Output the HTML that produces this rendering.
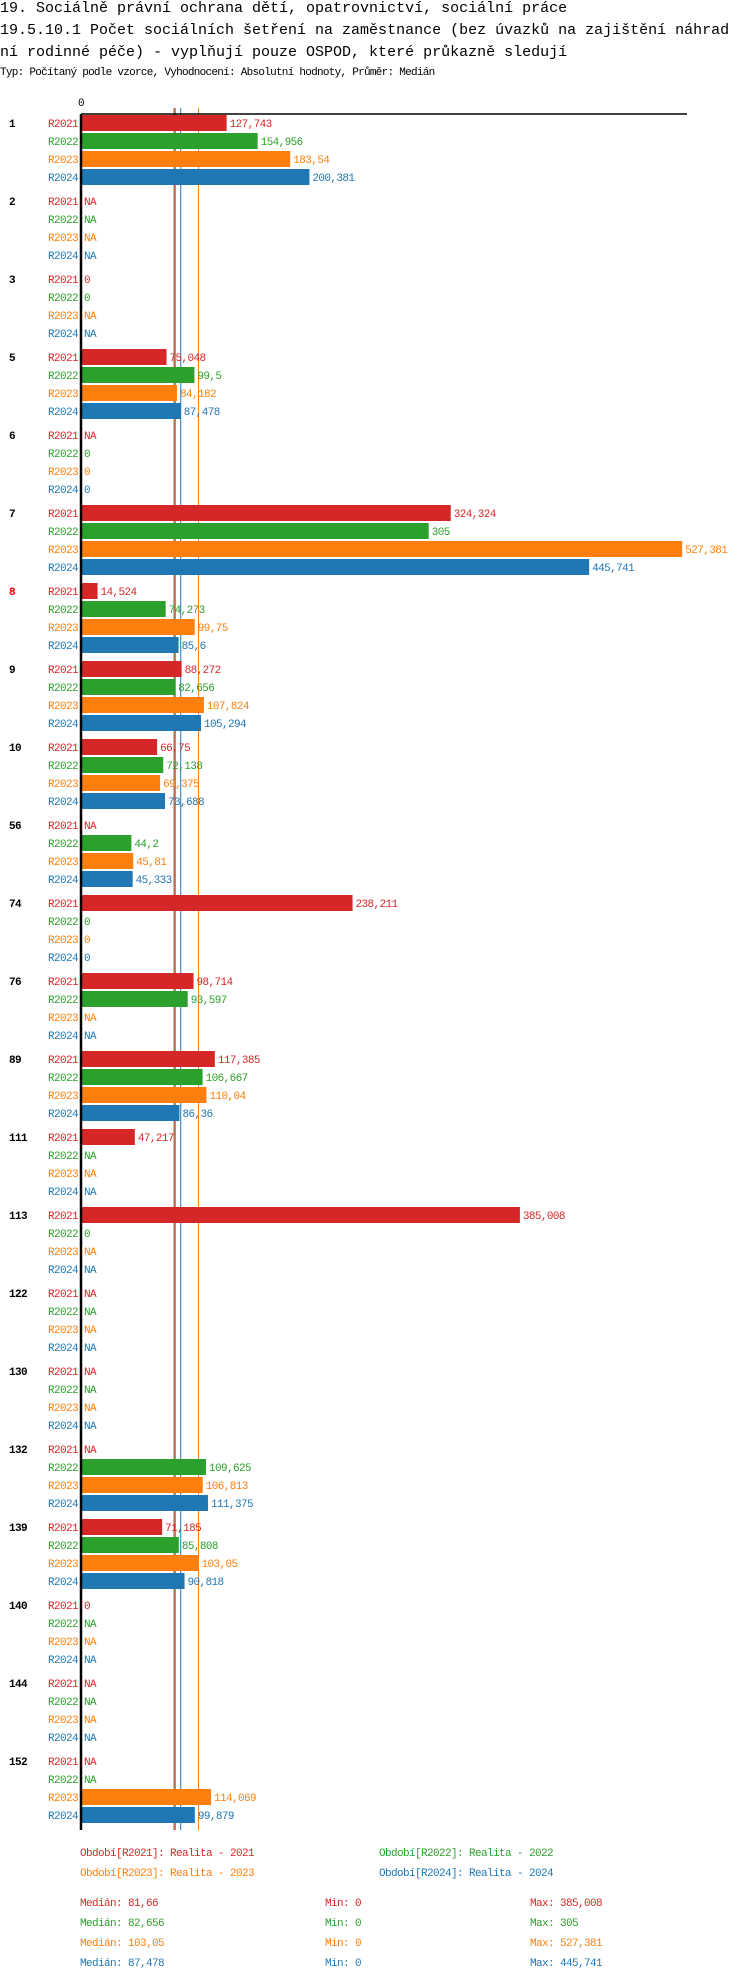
<!DOCTYPE html>
<html><head><meta charset="utf-8">
<style>
body{margin:0;background:#fff;width:750px;height:1980px;overflow:hidden}
.t{position:absolute;left:0;font-family:"Liberation Mono",monospace;font-size:15px;color:#000;white-space:nowrap}
svg{position:absolute;left:0;top:0}
svg text{font-family:"Liberation Mono",monospace;font-size:11px;letter-spacing:-0.6px}
</style></head><body>
<div class="t" style="top:0px">19. Sociálně právní ochrana dětí, opatrovnictví, sociální práce</div>
<div class="t" style="top:22px">19.5.10.1 Počet sociálních šetření na zaměstnance (bez úvazků na zajištění náhrad</div>
<div class="t" style="top:44px">ní rodinné péče) - vyplňují pouze OSPOD, které průkazně sledují</div>
<div class="t" style="top:67px;font-size:11px;letter-spacing:-0.73px">Typ: Počítaný podle vzorce, Vyhodnocení: Absolutní hodnoty, Průměr: Medián</div>
<svg id="c" width="750" height="1980"></svg>
<script>
const categories=["1","2","3","5","6","7","8","9","10","56","74","76","89","111","113","122","130","132","139","140","144","152"];
const seriesNames=["R2021","R2022","R2023","R2024"];
const r2021=[127.743,null,0,75.048,null,324.324,14.524,88.272,66.75,null,238.211,98.714,117.385,47.217,385.008,null,null,null,71.185,0,null,null];
const r2022=[154.956,null,0,99.5,0,305,74.273,82.656,72.138,44.2,0,93.597,106.667,null,0,null,null,109.625,85.808,null,null,null];
const r2023=[183.54,null,null,84.182,0,527.381,99.75,107.824,69.375,45.81,0,null,110.04,null,null,null,null,106.813,103.05,null,null,114.069];
const r2024=[200.381,null,null,87.478,0,445.741,85.6,105.294,73.688,45.333,0,null,86.36,null,null,null,null,111.375,90.818,null,null,99.879];
const medians=[81.66,82.656,103.05,87.478];
const mins=[0,0,0,0];
const maxs=[385.008,305,527.381,445.741];
const legendLabels=["Období[R2021]: Realita - 2021","Období[R2022]: Realita - 2022","Období[R2023]: Realita - 2023","Období[R2024]: Realita - 2024"];
const highlighted="8";
const colors=["#d62728","#2ca02c","#ff7f0e","#1f77b4"];
const series=[r2021,r2022,r2023,r2024];
const svg=document.getElementById('c');
const NS="http://www.w3.org/2000/svg";
const X0=81,K=1.14,Y0=115,GP=78,RP=18,BH=16;
const x=v=>X0+v*K;
const y=(g,s)=>Y0+g*GP+s*RP;
const fmt=v=>String(v).replace('.',',');
function mk(tag,attrs){const e=document.createElementNS(NS,tag);for(const k in attrs)e.setAttribute(k,attrs[k]);svg.appendChild(e);return e;}
function txt(s,attrs){const e=mk('text',attrs);e.textContent=s;return e;}
const yEnd=y(categories.length-1,3)+BH+7;
medians.forEach((m,s)=>{
  const l=mk('line',{x1:x(m),x2:x(m),y1:108,y2:yEnd,stroke:colors[s],'stroke-width':1});
  
  
});
let t=txt("0",{x:X0,y:106,'text-anchor':'middle'});

categories.forEach((c,g)=>{
  const l=txt(c,{x:9,y:y(g,0)+12,'font-weight':'bold',fill:c===highlighted?'#ff0000':'#000'});
  
  
  series.forEach((arr,s)=>{
    const yy=y(g,s);
    const sl=txt(seriesNames[s],{x:78,y:yy+12,'text-anchor':'end',fill:colors[s]});
    
    
    const v=arr[g];
    if(v===null||v===0){
      const n=txt(v===null?'NA':'0',{x:X0+3,y:yy+12,fill:colors[s]});
      
      
    }else{
      const r=mk('rect',{x:X0,y:yy,width:v*K,height:BH,fill:colors[s]});
      
      
      const n=txt(fmt(v),{x:x(v)+3,y:yy+12,fill:colors[s]});
      
      
    }
  });
});
let a=mk('line',{x1:X0,x2:687,y1:114,y2:114,stroke:'#000','stroke-width':1.5});

a=mk('line',{x1:X0,x2:X0,y1:114,y2:yEnd,stroke:'#000','stroke-width':2.5});

legendLabels.forEach((lb,i)=>{
  const e=txt(lb,{x:i%2?379:80,y:i<2?1856:1876,fill:colors[i]});
  
  
});
colors.forEach((c,i)=>{
  const yy=1906+i*20;
  let e=txt('Medián: '+fmt(medians[i]),{x:80,y:yy,fill:c});
  
  
  e=txt('Min: '+fmt(mins[i]),{x:325,y:yy,fill:c});
  
  
  e=txt('Max: '+fmt(maxs[i]),{x:530,y:yy,fill:c});
  
  
});
</script>
</body></html>
